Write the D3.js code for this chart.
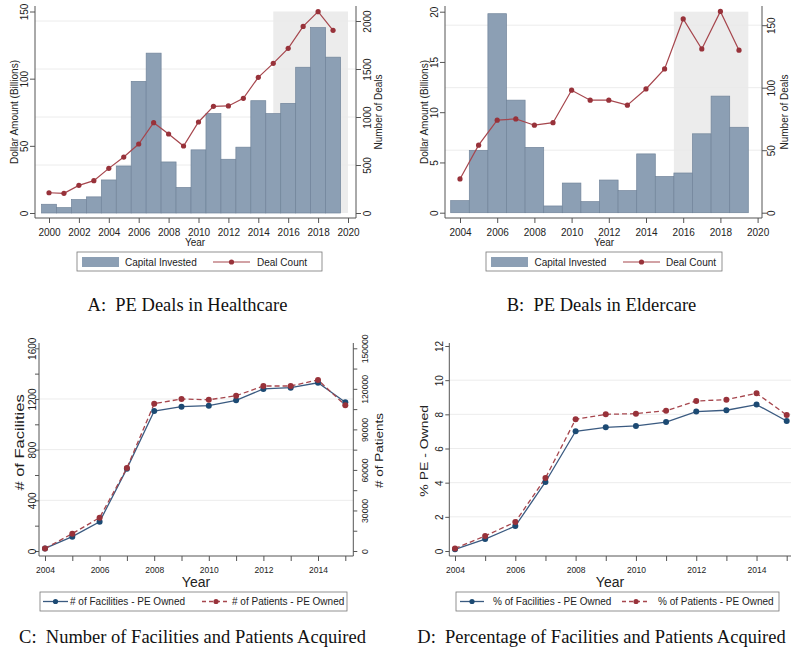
<!DOCTYPE html>
<meta charset="utf-8">
<head>
  <title>PE deals panels</title>
</head>
<style>
  body { margin: 0; background: #fff; }
  svg text { font-family: "Liberation Sans", Arial, sans-serif; fill: #222; }
  .cap { font-family: "Liberation Serif", "Times New Roman", serif; white-space: pre; fill: #111; }
</style>
<body>
<div id="my_dataviz"></div>
<script src="https://d3js.org/d3.v7.min.js"></script>
<script>

// ---------- data ----------
var yearsA = [2000,2001,2002,2003,2004,2005,2006,2007,2008,2009,2010,2011,2012,2013,2014,2015,2016,2017,2018,2019];
var capitalA = [6.5,4,10,12,24.6,35,98,119,38,19,47,74,40,49,83.6,74,81.6,108.5,138,116];
var dealsA = [211,205,288,337,465,583,719,941,823,698,948,1111,1115,1195,1413,1559,1715,1944,2097,1903];

var yearsB = [2004,2005,2006,2007,2008,2009,2010,2011,2012,2013,2014,2015,2016,2017,2018,2019];
var capitalB = [1.2,6.2,19.8,11.2,6.5,0.67,2.95,1.1,3.25,2.2,5.85,3.6,3.95,7.85,11.6,8.5];
var dealsB = [27,54,74,75,70,72,98,90,90,86,99,115,155,131,161,130];

var yearsC = [2004,2005,2006,2007,2008,2009,2010,2011,2012,2013,2014,2015];
var facilities = [20,113,231,650,1105,1139,1147,1189,1279,1289,1328,1174];
var patients = [1875,12850,24650,61400,109000,112500,111900,114900,122100,122100,126600,107800];
var pctFacilities = [0.1,0.7,1.46,4.04,7.01,7.24,7.32,7.55,8.16,8.24,8.57,7.61];
var pctPatients = [0.15,0.88,1.7,4.27,7.71,8.0,8.04,8.21,8.78,8.86,9.23,7.96];

// tick labels
var xTicksA = [2000,2002,2004,2006,2008,2010,2012,2014,2016,2018,2020];
var leftTicksA = [0,50,100,150];
var rightTicksA = [0,500,1000,1500,2000];
var xTicksB = [2004,2006,2008,2010,2012,2014,2016,2018,2020];
var leftTicksB = [0,5,10,15,20];
var rightTicksB = [0,50,100,150];
var xLabelsC = [2004,2006,2008,2010,2012,2014];
var leftTicksC = [0,200,400,600,800,1000,1200,1400,1600];
var rightTicksC = [0,15000,30000,45000,60000,75000,90000,105000,120000,135000,150000];
var leftTicksD = [0,2,4,6,8,10,12];

// shaded periods
var shadeA = [2015, 2020];
var shadeB = [2015.5, 2019.5];

var barFill = "#8c9fb4", barEdge = "#71849a";
var red = "#98323a", redLine = "#a6464d", blue = "#1c4a73", axisCol = "#555", gridCol = "#ececec";

var svg = d3.select("#my_dataviz").append("svg")
  .attr("width", 791).attr("height", 656);

// rotated tick labels, Stata style
function rotLabels(g, base, size) {
  g.selectAll("text")
    .attr("x", 0).attr("y", 0).attr("dy", 0)
    .attr("text-anchor", "middle")
    .style("font-size", size + "px")
    .attr("transform", "translate(" + base + ",0) rotate(-90)");
}

function cleanAxis(g) {
  g.select(".domain").remove();
  g.selectAll("line").attr("stroke", axisCol);
}

// x is the baseline of the rotated text; sq thins the glyphs sideways
function vTitle(x, y, txt, size, sq) {
  svg.append("text")
    .attr("transform", "translate(" + x + "," + y + ") rotate(-90) scale(1," + (sq || 1) + ")")
    .attr("text-anchor", "middle")
    .style("font-size", size + "px")
    .text(txt);
}

// ---------- bar + line panels (A, B) ----------
function barPanel(p) {
  var x = d3.scaleLinear().domain(p.xDom).range(p.xRange);
  var yL = d3.scaleLinear().domain([0, p.leftMax]).range([p.base, p.leftTop]);
  var yR = d3.scaleLinear().domain([0, p.rightMax]).range([p.base, p.rightTop]);
  var g = svg.append("g");

  // grid at right-axis ticks
  g.selectAll(".grid").data(p.rightTicks.slice(1)).enter().append("line")
    .attr("x1", p.axL).attr("x2", p.axR)
    .attr("y1", function(d) { return yR(d); }).attr("y2", function(d) { return yR(d); })
    .attr("stroke", gridCol);

  // shaded period
  g.append("rect")
    .attr("x", x(p.shade[0])).attr("width", x(p.shade[1]) - x(p.shade[0]))
    .attr("y", yL(p.leftMax)).attr("height", yL(0) - yL(p.leftMax))
    .attr("fill", "#e9e9e9").attr("opacity", 0.85);

  // bars
  g.selectAll(".bar").data(p.years).enter().append("rect")
    .attr("x", function(d) { return x(d - 0.5); })
    .attr("width", function(d) { return x(d + 0.5) - x(d - 0.5); })
    .attr("y", function(d, i) { return yL(p.capital[i]); })
    .attr("height", function(d, i) { return yL(0) - yL(p.capital[i]); })
    .attr("fill", barFill).attr("stroke", barEdge).attr("stroke-width", 0.7);

  // deal count line
  var line = d3.line().x(function(d) { return x(d[0]); }).y(function(d) { return yR(d[1]); });
  var pts = p.years.map(function(d, i) { return [d, p.deals[i]]; });
  g.append("path").datum(pts).attr("d", line)
    .attr("fill", "none").attr("stroke", redLine).attr("stroke-width", 1.2);
  g.selectAll(".dot").data(pts).enter().append("circle")
    .attr("cx", function(d) { return x(d[0]); }).attr("cy", function(d) { return yR(d[1]); })
    .attr("r", 2.6).attr("fill", red);

  // axis lines
  g.append("line").attr("x1", p.axL).attr("x2", p.axL).attr("y1", p.axTop).attr("y2", p.axBot).attr("stroke", axisCol);
  g.append("line").attr("x1", p.axR).attr("x2", p.axR).attr("y1", p.axTop).attr("y2", p.axBot).attr("stroke", axisCol);
  g.append("line").attr("x1", p.axL).attr("x2", p.axR).attr("y1", p.axBot).attr("y2", p.axBot).attr("stroke", axisCol);

  var gl = g.append("g").attr("transform", "translate(" + p.axL + ",0)")
    .call(d3.axisLeft(yL).tickValues(p.leftTicks).tickSize(5).tickFormat(d3.format("d")));
  cleanAxis(gl); rotLabels(gl, -7.5, 10);
  var gr = g.append("g").attr("transform", "translate(" + p.axR + ",0)")
    .call(d3.axisRight(yR).tickValues(p.rightTicks).tickSize(5).tickFormat(d3.format("d")));
  cleanAxis(gr); rotLabels(gr, p.rLabBase, 10);
  var gx = g.append("g").attr("transform", "translate(0," + p.axBot + ")")
    .call(d3.axisBottom(x).tickValues(p.xTicks).tickSize(5).tickFormat(d3.format("d")));
  cleanAxis(gx);
  gx.selectAll("text").attr("y", 0).attr("dy", 0).attr("transform", "translate(0,18)").style("font-size", "10px");

  svg.append("text").attr("x", p.yearX).attr("y", 245.5).attr("text-anchor", "middle")
    .style("font-size", "10px").text("Year");
  vTitle(p.axL - 17.5, 112, "Dollar Amount (Billions)", 10);
  vTitle(p.axR + p.rTitleBase, 112, "Number of Deals", 10);

  // legend
  var L = p.legend;
  svg.append("rect").attr("x", L.x0).attr("y", 252).attr("width", L.x1 - L.x0).attr("height", 19)
    .attr("fill", "#fff").attr("stroke", "#777").attr("stroke-width", 0.8);
  svg.append("rect").attr("x", L.sw0).attr("y", 257).attr("width", L.sw1 - L.sw0).attr("height", 10)
    .attr("fill", barFill);
  svg.append("text").attr("x", L.t1).attr("y", 265.5).style("font-size", "10px").text("Capital Invested");
  svg.append("line").attr("x1", L.l0).attr("x2", L.l1).attr("y1", 262).attr("y2", 262)
    .attr("stroke", redLine).attr("stroke-width", 1.2);
  svg.append("circle").attr("cx", (L.l0 + L.l1) / 2).attr("cy", 262).attr("r", 2.6).attr("fill", red);
  svg.append("text").attr("x", L.t2).attr("y", 265.5).style("font-size", "10px").text("Deal Count");

  svg.append("text").attr("class", "cap").attr("x", p.capX).attr("y", 311)
    .attr("text-anchor", "middle").style("font-size", "18.5px").text(p.caption);
}

barPanel({
  years: yearsA, capital: capitalA, deals: dealsA,
  xDom: [2000, 2020], xRange: [49, 348], axL: 35, axR: 356, axTop: 6, axBot: 218,
  base: 213, leftMax: 150, leftTop: 11.5, rightMax: 2000, rightTop: 21,
  leftTicks: leftTicksA, rightTicks: rightTicksA, xTicks: xTicksA, shade: shadeA,
  rLabBase: 14.6, rTitleBase: 25.6,
  yearX: 195, capX: 187.5, caption: "A:  PE Deals in Healthcare",
  legend: {x0: 77, x1: 322, sw0: 82, sw1: 119, t1: 125, l0: 213, l1: 250, t2: 257}
});

barPanel({
  years: yearsB, capital: capitalB, deals: dealsB,
  xDom: [2004, 2020], xRange: [460, 757.6], axL: 445, axR: 762, axTop: 6, axBot: 218,
  base: 212.7, leftMax: 20, leftTop: 11.7, rightMax: 150, rightTop: 25.2,
  leftTicks: leftTicksB, rightTicks: rightTicksB, xTicks: xTicksB, shade: shadeB,
  rLabBase: 12.6, rTitleBase: 25.6,
  yearX: 604, capX: 601.5, caption: "B:  PE Deals in Eldercare",
  legend: {x0: 486, x1: 722, sw0: 491, sw1: 528, t1: 534.5, l0: 623, l1: 660, t2: 666}
});

// ---------- line panels (C, D) ----------
function linePanel(p) {
  var x = d3.scaleLinear().domain([2004, 2015]).range(p.xRange);
  var y = d3.scaleLinear().domain([0, p.leftMax]).range([551, p.leftTop]);
  var g = svg.append("g");

  g.selectAll(".grid").data(p.grid).enter().append("line")
    .attr("x1", p.axL).attr("x2", p.axR)
    .attr("y1", function(d) { return y(d); }).attr("y2", function(d) { return y(d); })
    .attr("stroke", gridCol);

  // axes
  g.append("line").attr("x1", p.axL).attr("x2", p.axL).attr("y1", 343).attr("y2", 556).attr("stroke", axisCol);
  g.append("line").attr("x1", p.axL).attr("x2", p.axR).attr("y1", 556).attr("y2", 556).attr("stroke", axisCol);

  var gl = g.append("g").attr("transform", "translate(" + p.axL + ",0)")
    .call(d3.axisLeft(y).tickValues(p.leftTicks).tickSize(4)
      .tickFormat(function(d) { return p.leftLabels.indexOf(d) >= 0 ? d : ""; }));
  cleanAxis(gl); rotLabels(gl, p.leftBase, 10);

  var gx = g.append("g").attr("transform", "translate(0,556)")
    .call(d3.axisBottom(x).tickValues(yearsC).tickSize(5)
      .tickFormat(function(d) { return xLabelsC.indexOf(d) >= 0 ? d : ""; }));
  cleanAxis(gx);
  gx.selectAll("text").attr("y", 0).attr("dy", 0).attr("transform", "translate(0,16.5)").style("font-size", "8.5px");

  // right axis (C only) uses its own scale
  var s2 = p.series[1];
  var y2 = y;
  if (p.rightMax) {
    y2 = d3.scaleLinear().domain([0, p.rightMax]).range([551, p.leftTop]);
    g.append("line").attr("x1", p.axR).attr("x2", p.axR).attr("y1", 343).attr("y2", 556).attr("stroke", axisCol);
    var gr = g.append("g").attr("transform", "translate(" + p.axR + ",0)")
      .call(d3.axisRight(y2).tickValues(rightTicksC).tickSize(4)
        .tickFormat(function(d) { return d % 30000 === 0 ? d : ""; }));
    cleanAxis(gr); rotLabels(gr, 14.5, 8.7);
  }

  var line1 = d3.line().x(function(d, i) { return x(yearsC[i]); }).y(function(d) { return y(d); });
  var line2 = d3.line().x(function(d, i) { return x(yearsC[i]); }).y(function(d) { return y2(d); });

  g.append("path").datum(p.series[0]).attr("d", line1)
    .attr("fill", "none").attr("stroke", "#3a5a80").attr("stroke-width", 1.3);
  g.append("path").datum(s2).attr("d", line2)
    .attr("fill", "none").attr("stroke", redLine).attr("stroke-width", 1.3).attr("stroke-dasharray", "5,3");
  g.selectAll(".d1").data(p.series[0]).enter().append("circle")
    .attr("cx", function(d, i) { return x(yearsC[i]); }).attr("cy", function(d) { return y(d); })
    .attr("r", 3).attr("fill", blue);
  g.selectAll(".d2").data(s2).enter().append("circle")
    .attr("cx", function(d, i) { return x(yearsC[i]); }).attr("cy", function(d) { return y2(d); })
    .attr("r", 3).attr("fill", red);

  svg.append("text").attr("x", p.yearX).attr("y", 587).attr("text-anchor", "middle")
    .style("font-size", "14px").text("Year");
  vTitle(p.titleX, p.titleY, p.title, p.titleSize, 0.8);
  if (p.title2) vTitle(p.title2X, 450.5, p.title2, 13.5, 0.85);

  var L = p.legend;
  svg.append("rect").attr("x", L.x0).attr("y", 592).attr("width", L.x1 - L.x0).attr("height", 19)
    .attr("fill", "#fff").attr("stroke", "#777").attr("stroke-width", 0.8);
  svg.append("line").attr("x1", L.l0).attr("x2", L.l1).attr("y1", 601.5).attr("y2", 601.5)
    .attr("stroke", "#3a5a80").attr("stroke-width", 1.3);
  svg.append("circle").attr("cx", (L.l0 + L.l1) / 2).attr("cy", 601.5).attr("r", 2.6).attr("fill", blue);
  svg.append("text").attr("x", L.t1).attr("y", 605).style("font-size", "10px").text(p.names[0]);
  svg.append("line").attr("x1", L.r0).attr("x2", L.r1).attr("y1", 601.5).attr("y2", 601.5)
    .attr("stroke", redLine).attr("stroke-width", 1.3).attr("stroke-dasharray", "4,3");
  svg.append("circle").attr("cx", (L.r0 + L.r1) / 2).attr("cy", 601.5).attr("r", 2.6).attr("fill", red);
  svg.append("text").attr("x", L.t2).attr("y", 605).style("font-size", "10px").text(p.names[1]);

  svg.append("text").attr("class", "cap").attr("x", p.capX).attr("y", 643)
    .attr("text-anchor", "middle").style("font-size", "18.5px").text(p.caption);
}

linePanel({
  series: [facilities, patients], xRange: [45, 345.3], axL: 39, axR: 353.3,
  leftMax: 1600, leftTop: 348.3, rightMax: 150000,
  leftTicks: leftTicksC, leftLabels: [0,400,800,1200,1600], leftBase: -3.5,
  grid: [400, 800, 1200], yearX: 196,
  title: "# of Facilities", titleX: 24, titleY: 442.5, titleSize: 16.5,
  title2: "# of Patients", title2X: 382.5,
  names: ["# of Facilities - PE Owned", "# of Patients - PE Owned"],
  legend: {x0: 40, x1: 347, l0: 43, l1: 68, t1: 70, r0: 202, r1: 230, t2: 232},
  capX: 192.5, caption: "C:  Number of Facilities and Patients Acquired"
});

linePanel({
  series: [pctFacilities, pctPatients], xRange: [455, 786.7], axL: 449.3, axR: 791,
  leftMax: 12, leftTop: 346,
  leftTicks: leftTicksD, leftLabels: leftTicksD, leftBase: -6,
  grid: [2, 4, 6, 8, 10], yearX: 610,
  title: "% PE - Owned", titleX: 428.3, titleY: 450.8, titleSize: 14,
  names: ["% of Facilities - PE Owned", "% of Patients - PE Owned"],
  legend: {x0: 456, x1: 779, l0: 460, l1: 484, t1: 493, r0: 622, r1: 650, t2: 658},
  capX: 601.5, caption: "D:  Percentage of Facilities and Patients Acquired"
});

</script>
</body>
</html>
